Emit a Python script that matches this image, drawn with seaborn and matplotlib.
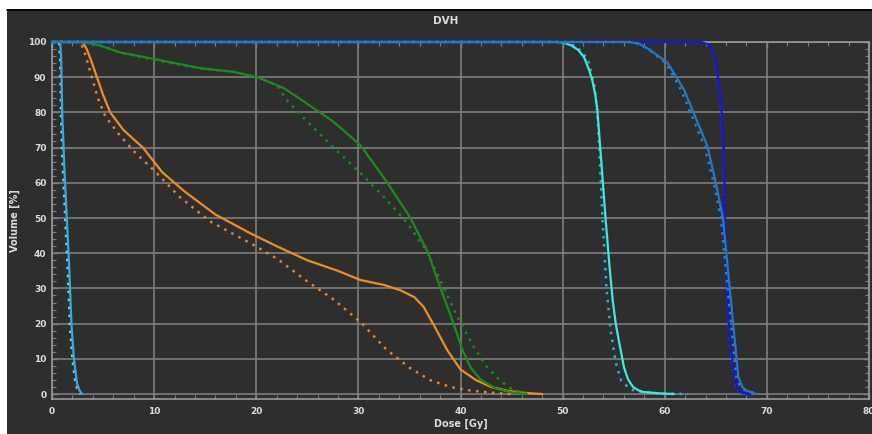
import numpy as np
import pandas as pd
import matplotlib
matplotlib.use("Agg")
import matplotlib.pyplot as plt
import seaborn as sns
from matplotlib.ticker import MultipleLocator
from matplotlib.patches import Rectangle

# ---------------- data (Dose [Gy], Volume [%]) ----------------
lb_x = [0, 0.8, 0.9, 1.0, 1.2, 1.45, 1.7, 1.9, 2.15, 2.45, 2.7, 2.95]
lb_y = [100, 100, 95, 80, 65, 50, 35, 20, 10, 3, 1, 0]
lb_dx = [0, 0.7, 0.8, 0.88, 1.05, 1.3, 1.55, 1.75, 2.0, 2.3, 2.55, 2.8]
lb_dy = [100, 100, 95, 80, 65, 50, 35, 20, 10, 3, 1, 0]

or_x = [0, 3.0, 3.4, 3.8, 4.4, 5.0, 5.7, 7.0, 8.9, 10.8, 13.0, 16.0, 19.4, 22.0, 25.0, 28.0,
        30.2, 32.5, 34.1, 35.5, 36.4, 37.5, 38.7, 40.0, 41.5, 43.0, 44.5, 46.0, 48.0]
or_y = [100, 100, 98, 95, 90, 85, 80, 75, 70, 63, 57.5, 51, 45.7, 42, 38, 35,
        32.4, 31, 29.5, 27.5, 24.7, 19, 12.5, 7, 4, 2, 1, 0.4, 0]
or_dx = [0, 2.8, 3.2, 3.6, 4.0, 4.5, 5.2, 6.5, 8.0, 10.0, 12.5, 15.5, 19.4, 22.0, 25.0, 27.5,
         30.2, 32.8, 35.0, 37.0, 39.0, 41.0, 43.0, 45.0]
or_dy = [100, 100, 97, 93, 89, 84, 79, 74, 69, 63.5, 56, 49, 42.9, 38.5, 32, 27,
         20.5, 12.5, 7.5, 4, 2, 1, 0.4, 0]

gr_x = [0, 3.0, 3.5, 4.7, 6.7, 9.6, 12, 14.5, 17.8, 20.1, 22.7, 24.3, 27.5, 30.2, 32.8, 35.1,
        36.8, 38.0, 39.2, 40.2, 41.0, 42.0, 43.5, 45.0, 46.5]
gr_y = [100, 100, 99.7, 99, 97, 95.4, 94, 92.6, 91.5, 90, 86.9, 83.8, 77.5, 70.7, 60.2, 50,
        40.3, 30.4, 21, 12.5, 7.5, 4, 1.5, 0.5, 0]
gr_dx = [0, 3.0, 3.5, 4.7, 6.7, 9.6, 12, 14.5, 17.8, 20.1, 22.0, 23.0, 24.1, 27.5, 30.2, 32.5,
         34.8, 36.8, 38.0, 39.7, 41.3, 42.5, 43.8, 45.0, 46.5]
gr_dy = [100, 100, 99.7, 99, 97, 95.2, 93.8, 92.5, 91.5, 90, 87.8, 83.5, 80, 70.2, 62.8, 56,
         48.6, 40, 32.4, 21.9, 13.4, 8, 4, 1.5, 0]

cy_x = [0, 49.5, 50.1, 50.8, 51.5, 52.1, 52.6, 52.9, 53.2, 53.4, 53.7, 54.2, 54.6, 54.9, 55.2,
        55.5, 56.0, 56.4, 56.9, 57.4, 57.9, 59.5, 60.9]
cy_y = [100, 100, 99.8, 99.1, 97.8, 95.7, 92, 89.2, 85, 80.7, 69.3, 50, 36, 26.7, 20,
        15.3, 7.7, 4.2, 2, 1.1, 0.6, 0.2, 0]
cy_dx = [0, 49.5, 50.3, 51.1, 51.8, 52.5, 53.1, 53.4, 53.6, 53.9, 54.3, 54.7, 55.2, 55.7,
         56.1, 56.4, 57.0, 57.5, 59.5, 62.3]
cy_dy = [100, 100, 99.8, 99, 97.5, 94.9, 88, 80, 69, 50, 30, 18.2, 9, 4, 2.8, 2, 1.0, 0.6, 0.2, 0]

sb_x = [0, 56.5, 57.5, 58.6, 60.3, 61.9, 63.0, 64.2, 65.0, 65.7, 66.2, 66.7, 67.2, 67.6, 68.0, 69.0]
sb_y = [100, 100, 99.5, 97.7, 94, 86.4, 78.7, 70.2, 60, 50, 35, 20, 5, 2, 1, 0]
sb_dx = [0, 56.5, 57.5, 58.5, 60.1, 61.6, 62.7, 63.9, 64.8, 65.5, 66.0, 66.5, 67.0, 67.4, 67.9, 69.2]
sb_dy = [100, 100, 99.5, 97.7, 94, 86.4, 78.7, 70.2, 60, 50, 35, 20, 5, 2, 1, 0]

db_x = [0, 63.5, 64.3, 64.7, 65.0, 65.5, 65.8, 65.9, 66.1, 66.3, 66.7, 67.2, 67.6, 68.4]
db_y = [100, 100, 99.3, 98, 94.9, 83.5, 69.3, 50, 35, 20, 7.7, 1, 0.3, 0]
db_dx = [0, 63.5, 64.3, 64.7, 64.9, 65.4, 65.7, 65.8, 66.0, 66.2, 66.6, 67.0, 67.4, 68.2]
db_dy = [100, 100, 99.3, 98, 94.9, 83.5, 69.3, 50, 35, 20, 7.7, 1, 0.3, 0]

x_ticks = [0, 10, 20, 30, 40, 50, 60, 70, 80]
y_ticks = [0, 10, 20, 30, 40, 50, 60, 70, 80, 90, 100]

# ---------------- styling ----------------
BG = "#2e2e2e"
GRID = "#7d7d7d"
TXT = "#dcdcdc"

sns.set_theme(style="dark")
plt.rcParams["font.family"] = ["DejaVu Sans"]

fig = plt.figure(figsize=(8.72, 4.34), dpi=100)
fig.patch.set_facecolor(BG)
# white band on top / left, black separator line
fig.patches.append(Rectangle((0, 1 - 9 / 434), 1, 9 / 434, transform=fig.transFigure,
                             facecolor="white", edgecolor="none", zorder=0))
fig.patches.append(Rectangle((0, 0), 7 / 872, 1, transform=fig.transFigure,
                             facecolor="white", edgecolor="none", zorder=0))
fig.add_artist(plt.Line2D([7 / 872, 1], [1 - 9.5 / 434] * 2, transform=fig.transFigure,
                          color="black", lw=1.2))

ax = fig.add_axes([52 / 872, 35 / 434, 817 / 872, 357 / 434])
ax.set_facecolor(BG)

solid_lw = 1.6
dot_ls = (0, (1, 2.2))
dot_lw = 1.8

series = [
    (lb_dx, lb_dy, "#9ccbe0", dot_ls, dot_lw),
    (lb_x, lb_y, "#33a9e2", "-", solid_lw),
    (or_dx, or_dy, "#e8842a", dot_ls, dot_lw),
    (or_x, or_y, "#f28c1c", "-", solid_lw),
    (gr_dx, gr_dy, "#1a8a1a", dot_ls, dot_lw),
    (gr_x, gr_y, "#1a8c1a", "-", solid_lw),
    (cy_dx, cy_dy, "#2fb3c0", dot_ls, dot_lw),
    (cy_x, cy_y, "#3ce8e8", "-", solid_lw),
    (db_dx, db_dy, "#2a2ad0", dot_ls, dot_lw),
    (db_x, db_y, "#1515dc", "-", solid_lw),
    (sb_dx, sb_dy, "#2a86b8", dot_ls, dot_lw),
    (sb_x, sb_y, "#1f78c8", "-", solid_lw),
]
for xs, ys, col, ls, lw in series:
    df = pd.DataFrame({"dose": xs, "vol": ys})
    sns.lineplot(data=df, x="dose", y="vol", ax=ax, color=col, linestyle=ls,
                 linewidth=lw, sort=False, estimator=None, legend=False,
                 zorder=3, clip_on=False)

ax.set_xlim(0, 80)
ax.set_ylim(-1.4, 100)
ax.set_xticks(x_ticks)
ax.set_yticks(y_ticks)
ax.xaxis.set_minor_locator(MultipleLocator(2))
ax.yaxis.set_minor_locator(MultipleLocator(2))
ax.grid(True, which="major", color=GRID, linewidth=1.2)
ax.grid(False, which="minor")
ax.set_axisbelow(True)

ax.tick_params(which="both", direction="in", top=True, right=True, bottom=True, left=True,
               colors=GRID, labelcolor=TXT, labelsize=6.5)
ax.tick_params(which="major", length=4, width=1)
ax.tick_params(which="minor", length=3, width=0.8)
ax.tick_params(axis="x", pad=6)
ax.tick_params(axis="y", pad=4)
for lab in ax.get_xticklabels() + ax.get_yticklabels():
    lab.set_fontweight("bold")

for sp in ax.spines.values():
    sp.set_visible(True)
    sp.set_color("#9a9a9a")
    sp.set_linewidth(1.2)

ax.set_xlabel("Dose [Gy]", color=TXT, fontsize=7, fontweight="bold", labelpad=2)
ax.set_ylabel("Volume [%]", color=TXT, fontsize=7, fontweight="bold", labelpad=6)

fig.text(446 / 872, 1 - 21 / 434, "DVH", color=TXT, fontsize=7.5, fontweight="bold",
         ha="center", va="center")

fig.savefig("out.png", dpi=100, facecolor=fig.get_facecolor())
